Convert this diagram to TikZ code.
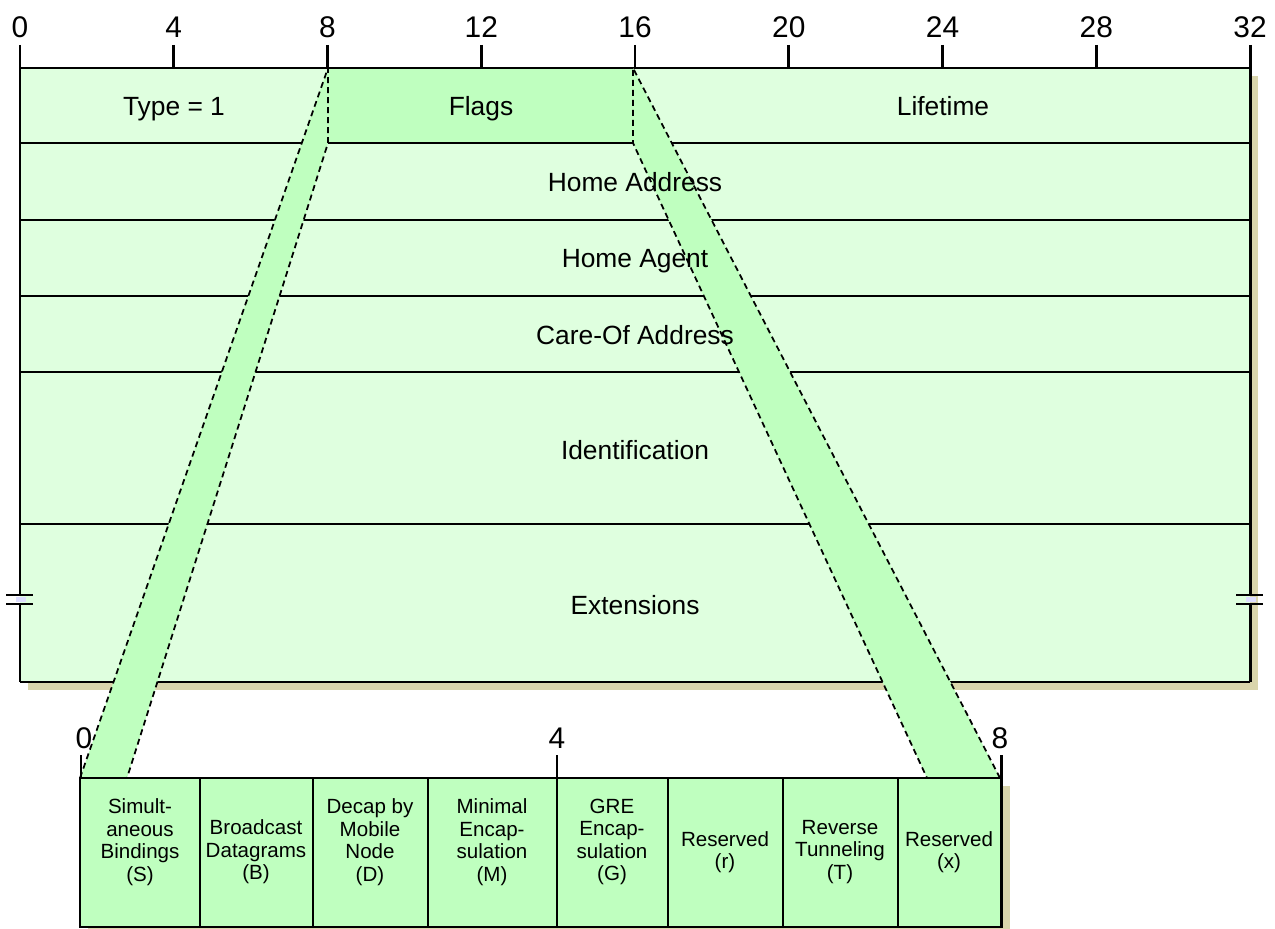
\documentclass[tikz,border=0pt]{standalone}
\usepackage{fontspec}
\setmainfont{Liberation Sans}
\definecolor{pale}{HTML}{DFFFDF}
\definecolor{midgreen}{HTML}{BFFFBF}
\definecolor{shadowc}{HTML}{D9D5AC}
\definecolor{gapc}{HTML}{DDDDFF}
\begin{document}
\begin{tikzpicture}[x=0.02cm,y=-0.02cm,
  border/.style={line width=1.7pt},
  thinline/.style={line width=0.85pt},
  bandedge/.style={line width=1pt, dash pattern=on 3.4pt off 2.3pt},
  ruler/.style={font=\fontsize{17}{20}\selectfont, anchor=base, inner sep=0pt},
  field/.style={font=\fontsize{15}{18}\selectfont, anchor=base, inner sep=0pt},
  cell/.style={font=\fontsize{11.7}{12.8}\selectfont, align=center, inner sep=0pt},
  band/.style={fill=midgreen}
]
\useasboundingbox (0,0) rectangle (1275,929);

% named corner coordinates
\coordinate (UTL) at (20,68);
\coordinate (UBR) at (1250,682);
\coordinate (LTL) at (80,778);
\coordinate (LBR) at (1001,927);
\coordinate (A) at (328,68);
\coordinate (B) at (328,143);
\coordinate (C) at (127,778);
\coordinate (D) at (80,778);
\coordinate (E) at (633,68);
\coordinate (F) at (633,143);
\coordinate (G) at (927,778);
\coordinate (H) at (1000,778);

% shadows
\fill[shadowc] (28,76) rectangle (1258,690);
\fill[shadowc] (88,786) rectangle (1010,940);

% upper box fill
\fill[pale] (UTL) rectangle (UBR);
\fill[midgreen] (A) rectangle (F);

% row lines
\foreach \yy in {143,220,296,372,524}
  \draw[thinline] (20,\yy) -- (1250,\yy);

% lower box fill and dividers
\fill[midgreen] (LTL) rectangle (LBR);
\foreach \xx in {200,313,428,557,668,783,898}
  \draw[thinline] (\xx,778) -- (\xx,927);

% upper box outline with breaks
\draw[border] (20,68) -- (1250,68);
\draw[border] (20,682) -- (1250,682);
\draw[border] (20,68) -- (20,596);
\draw[border] (20,603) -- (20,682);
\draw[border] (1250,68) -- (1250,596);
\draw[border] (1250,603) -- (1250,682);
\fill[gapc] (16,597) rectangle (26,602);
\fill[gapc] (1246,597) rectangle (1256,602);
\draw[border] (6,595) -- (33,595);
\draw[border] (6,604) -- (33,604);
\draw[border] (1236,595) -- (1263,595);
\draw[border] (1236,604) -- (1263,604);

% bands (drawn over the upper box border)
\fill[band] (A) -- (B) -- (C) -- (D) -- cycle;
\fill[band] (E) -- (F) -- (G) -- (H) -- cycle;
\draw[bandedge] (D) -- (A) -- (B) -- (C);
\draw[bandedge] (H) -- (E) -- (F) -- (G);

% top ruler
\foreach \i in {0,4,...,32} {
  \pgfmathsetmacro\xx{20+\i*38.4375}
  \draw[border] (\xx,45) -- (\xx,68);
  \node[ruler] (top\i) at (\xx,38) {\i};
}

% lower box outline
\draw[border] (LTL) rectangle (LBR);

% lower ruler
\draw[border] (81,755) -- (81,778);
\draw[border] (557,755) -- (557,778);
\draw[border] (1001,755) -- (1001,778);
\node[ruler] (low0) at (84,748) {0};
\node[ruler] (low4) at (557,748) {4};
\node[ruler] (low8) at (1000,748) {8};

% field labels
\node[field] (type) at (174,116) {Type = 1};
\node[field] (flags) at (481,116) {Flags};
\node[field] (life) at (943,116) {Lifetime};
\node[field] (haddr) at (635,192) {Home Address};
\node[field] (hagent) at (635,268) {Home Agent};
\node[field] (coa) at (635,344) {Care-Of Address};
\node[field] (ident) at (635,459) {Identification};
\node[field] (ext) at (635,614) {Extensions};

% flag cells
\node[cell] (fS) at (140,842) {Simult-\\aneous\\Bindings\\(S)};
\node[cell] (fB) at (256,852) {Broadcast\\Datagrams\\(B)};
\node[cell] (fD) at (370,842) {Decap by\\Mobile\\Node\\(D)};
\node[cell] (fM) at (492,842) {Minimal\\Encap-\\sulation\\(M)};
\node[cell] (fG) at (612,842) {GRE\\Encap-\\sulation\\(G)};
\node[cell] (fr) at (725,852) {Reserved\\(r)};
\node[cell] (fT) at (840,852) {Reverse\\Tunneling\\(T)};
\node[cell] (fx) at (949,852) {Reserved\\(x)};
\end{tikzpicture}
\end{document}
